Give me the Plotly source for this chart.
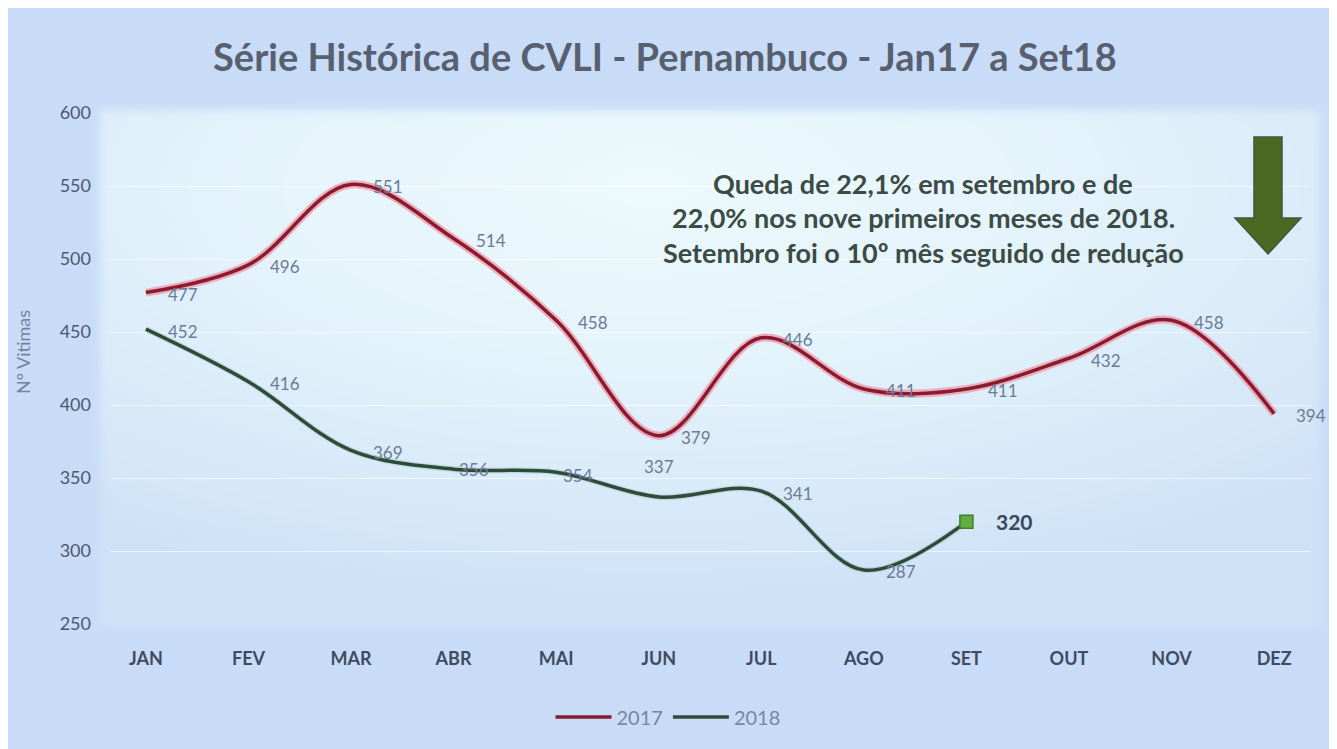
import base64
import plotly.graph_objects as go

# ---------------- data ----------------
months = ["JAN", "FEV", "MAR", "ABR", "MAI", "JUN", "JUL", "AGO", "SET", "OUT", "NOV", "DEZ"]
cvli_2017 = [477, 496, 551, 514, 458, 379, 446, 411, 411, 432, 458, 394]
cvli_2018 = [452, 416, 369, 356, 354, 337, 341, 287, 320]
y_ticks = [250, 300, 350, 400, 450, 500, 550, 600]

title_text = "Série Histórica de CVLI - Pernambuco - Jan17 a Set18"
y_title = "Nº Vitimas"
note_lines = [
    "Queda de 22,1% em setembro e de",
    "22,0% nos nove primeiros meses de 2018.",
    "Setembro foi o 10º mês seguido de redução",
]

# ---------------- layout geometry ----------------
W, H = 1337, 749
OFF = 8  # page body margin
ML, MR, MT, MB = 102, 35, 105, 133
PW, PH = W - ML - MR, H - MT - MB


def px2x(sx):
    return (sx - OFF - ML) / PW


def py2y(sy):
    return (H - MB - (sy - OFF)) / PH


FONT = "Lato"
RED = "#8a1a30"
RED_GLOW = "rgba(240,140,155,0.65)"
GREEN = "#2f4a3a"
GREEN_GLOW = "rgba(150,190,170,0.35)"
LABEL_COLOR = "#6b7a96"
BG = "#c9dcf7"

# light gradient panel behind the plot area
svg = f"""<svg xmlns="http://www.w3.org/2000/svg" width="{W}" height="{H}" viewBox="0 0 {W} {H}">
<defs>
<radialGradient id="g" cx="0.45" cy="0.15" r="0.8">
<stop offset="0" stop-color="#ecfafd"/>
<stop offset="0.45" stop-color="#e3f3fb"/>
<stop offset="0.8" stop-color="#d6e8f8"/>
<stop offset="1" stop-color="#cfe1f7"/>
</radialGradient>
<filter id="b" x="-5%" y="-5%" width="110%" height="110%"><feGaussianBlur stdDeviation="5"/></filter>
</defs>
<rect x="{100-OFF}" y="{110-OFF}" width="1220" height="518" fill="url(#g)" filter="url(#b)"/>
</svg>"""
bg_src = "data:image/svg+xml;base64," + base64.b64encode(svg.encode()).decode()

fig = go.Figure()

months_2018 = months[: len(cvli_2018)]

# glow traces
fig.add_trace(go.Scatter(x=months, y=cvli_2017, mode="lines",
                         line=dict(color=RED_GLOW, width=8, shape="spline", smoothing=1),
                         showlegend=False, hoverinfo="skip"))
fig.add_trace(go.Scatter(x=months_2018, y=cvli_2018, mode="lines",
                         line=dict(color=GREEN_GLOW, width=6, shape="spline", smoothing=1),
                         showlegend=False, hoverinfo="skip"))
# main lines
fig.add_trace(go.Scatter(x=months, y=cvli_2017, mode="lines", name="2017",
                         line=dict(color=RED, width=3.5, shape="spline", smoothing=1)))
fig.add_trace(go.Scatter(x=months_2018, y=cvli_2018, mode="lines", name="2018",
                         line=dict(color=GREEN, width=3.5, shape="spline", smoothing=1)))
# last 2018 point marker
fig.add_trace(go.Scatter(x=[months_2018[-1]], y=[cvli_2018[-1]], mode="markers",
                         marker=dict(symbol="square", size=13, color="#5fae3e",
                                     line=dict(color="#3f7d2b", width=1.5)),
                         showlegend=False, hoverinfo="skip"))

annotations = []
# data labels
label_shift_2018 = {3: (20, 0), 4: (22, -3), 5: (0, 30)}
for i, v in enumerate(cvli_2017):
    annotations.append(dict(x=months[i], y=v, text=str(v), showarrow=False,
                            xshift=37, yshift=-2,
                            font=dict(family=FONT, size=17, color=LABEL_COLOR)))
for i, v in enumerate(cvli_2018[:-1]):
    dx, dy = label_shift_2018.get(i, (37, -2))
    annotations.append(dict(x=months_2018[i], y=v, text=str(v), showarrow=False,
                            xshift=dx, yshift=dy,
                            font=dict(family=FONT, size=17, color=LABEL_COLOR)))
annotations.append(dict(x=months_2018[-1], y=cvli_2018[-1], text=f"<b>{cvli_2018[-1]}</b>",
                        showarrow=False, xshift=48, yshift=0,
                        font=dict(family=FONT, size=21, color="#3b4560")))
# note text
for line, sy in zip(note_lines, [183, 217, 252]):
    annotations.append(dict(xref="paper", yref="paper", x=px2x(923), y=py2y(sy),
                            text=f"<b>{line}</b>", showarrow=False,
                            xanchor="center", yanchor="middle",
                            font=dict(family=FONT, size=27, color="#3c4b45")))
# y-axis title
annotations.append(dict(xref="paper", yref="paper", x=px2x(23), y=py2y(352),
                        text=y_title, showarrow=False, textangle=-90,
                        xanchor="center", yanchor="middle",
                        font=dict(family=FONT, size=18, color="#7083a0")))

# down arrow (screen pixel outline)
ax = [1254, 1282, 1282, 1301, 1268, 1235, 1254]
ay = [137, 137, 218, 218, 254, 218, 218]
path = "M " + " L ".join(f"{px2x(a):.5f},{py2y(b):.5f}" for a, b in zip(ax, ay)) + " Z"

fig.update_layout(
    width=W, height=H,
    margin=dict(l=ML, r=MR, t=MT, b=MB, autoexpand=False),
    paper_bgcolor=BG,
    plot_bgcolor="rgba(0,0,0,0)",
    images=[dict(source=bg_src, xref="paper", yref="paper",
                 x=-ML / PW, y=(H - MB) / PH, sizex=W / PW, sizey=H / PH,
                 xanchor="left", yanchor="top", sizing="stretch", layer="below")],
    title=dict(text=f"<b>{title_text}</b>", x=(665 - OFF) / W, xref="container",
               xanchor="center", y=1 - (58 - OFF) / H, yref="container", yanchor="middle",
               font=dict(family=FONT, size=38, color="#586070")),
    xaxis=dict(type="category", categoryorder="array", categoryarray=months,
               range=[-0.35, 11.35], showgrid=False, zeroline=False, showline=False,
               ticks="", ticklabelstandoff=22, tickangle=0,
               tickfont=dict(family=FONT, size=18, color="#3e4b62", weight="bold")),
    yaxis=dict(range=[250, 600], tickvals=y_ticks, showgrid=True,
               gridcolor="rgba(255,255,255,0.6)", gridwidth=1, zeroline=False,
               showline=False, ticks="", ticklabelstandoff=18,
               tickfont=dict(family=FONT, size=18, color="#4d5870")),
    legend=dict(orientation="h", x=px2x(668), xanchor="center",
                y=py2y(717), yanchor="middle", itemwidth=56,
                bgcolor="rgba(0,0,0,0)",
                font=dict(family=FONT, size=20, color="#7a869b")),
    annotations=annotations,
    shapes=[dict(type="path", xref="paper", yref="paper", path=path,
                 fillcolor="#4a6a24", line=dict(color="#3d5a40", width=1.5))],
)

fig.write_html("out.html")
